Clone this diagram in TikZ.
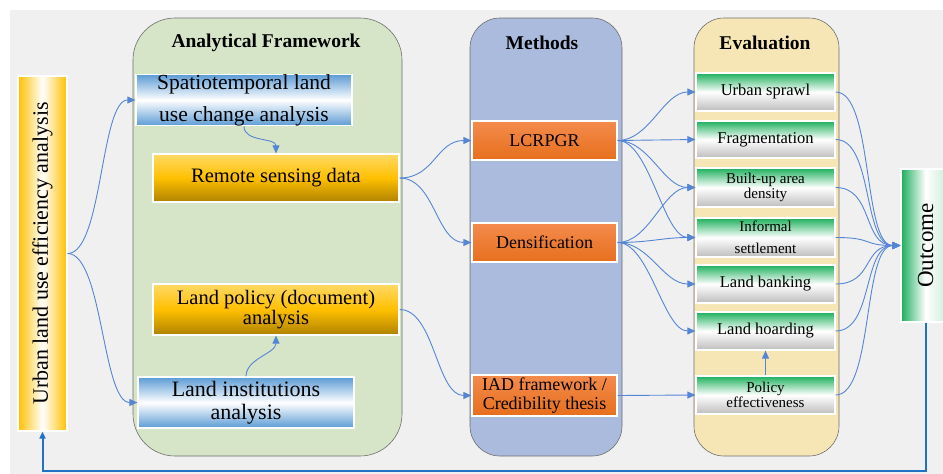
\documentclass[tikz,border=0pt]{standalone}
\usepackage{fontspec}
\IfFontExistsTF{LiberationSerif-Regular.ttf}
  {\setmainfont{LiberationSerif}[Extension=.ttf, UprightFont=*-Regular, BoldFont=*-Bold,
     ItalicFont=*-Italic, BoldItalicFont=*-BoldItalic]}
  {\setmainfont{Liberation Serif}}
\usepackage{graphicx}
\usetikzlibrary{arrows.meta}

\definecolor{bgGray}{HTML}{F0F0F0}
\definecolor{panelLine}{HTML}{6E6E6E}
\definecolor{afFill}{HTML}{D6E4C8}
\definecolor{meFill}{HTML}{AABBDD}
\definecolor{evFill}{HTML}{F6E6B6}
\definecolor{cBlue}{HTML}{5B9BD5}
\definecolor{gTop}{HTML}{FFD966}
\definecolor{gMid}{HTML}{FFC000}
\definecolor{gBot}{HTML}{AE8200}
\definecolor{oTop}{HTML}{F48B4D}
\definecolor{oBot}{HTML}{E66F1C}
\definecolor{eGreen}{HTML}{1DB05C}
\definecolor{eGray}{HTML}{BDBDBD}
\definecolor{ulGold}{HTML}{FFC000}
\definecolor{ocGreen}{HTML}{1AAE5A}
\definecolor{connBlue}{HTML}{5585D5}
\definecolor{fbBlue}{HTML}{2272C3}

\newcommand\setfs[2]{\fontsize{#1}{#2}\selectfont}

\tikzset{
  box/.style={draw=white, line width=1.2pt, inner sep=0pt, align=center, text=black},
  bluebox/.style={box, top color=cBlue, bottom color=cBlue, middle color=white},
  goldbox/.style={box, top color=gTop, bottom color=gBot, middle color=gMid},
  orangebox/.style={box, top color=oTop, bottom color=oBot,
    minimum width=145pt, font=\setfs{18}{18.5}},
  evbox/.style={box, top color=eGreen, bottom color=eGray, middle color=white,
    minimum width=139pt, font=\setfs{16.5}{18}},
  panel/.style={draw=panelLine, line width=0.6pt, inner sep=0pt},
  paneltitle/.style={font=\setfs{19.5}{22}\bfseries, inner sep=0pt},
  conn/.style={draw=connBlue, line width=0.9pt, -{Triangle[length=8pt,width=7pt]}},
  feedback/.style={draw=fbBlue, line width=2pt, -{Triangle[length=7pt,width=6pt]}}
}

\begin{document}
\begin{tikzpicture}[x=1pt, y=-1pt]
\useasboundingbox (0,0) rectangle (943,474);
\fill[white] (0,0) rectangle (943,474);
\fill[bgGray] (10,10) rectangle (943,474);

% three column panels
\node[panel, fill=afFill, rounded corners=42pt, minimum width=269pt, minimum height=438pt] (af) at (267.5,237) {};
\node[panel, fill=meFill, rounded corners=30pt, minimum width=152pt, minimum height=438pt] (me) at (546,237) {};
\node[panel, fill=evFill, rounded corners=30pt, minimum width=145pt, minimum height=438pt] (ev) at (766.5,237) {};

\node[paneltitle] (afT) at (266,43) {Analytical Framework};
\node[paneltitle] (meT) at (542,43) {Methods};
\node[paneltitle] (evT) at (765,43) {Evaluation};

% starting point
\node[box, left color=ulGold, right color=ulGold, middle color=white,
      minimum width=49pt, minimum height=355pt] (ul) at (42.5,253.5)
      {\rotatebox{90}{\setfs{22}{24}Urban land use efficiency analysis}};

% analytical framework
\node[bluebox, minimum width=216pt, minimum height=50pt, font=\setfs{21.5}{32}] (sp) at (244,100)
  {Spatiotemporal land\\use change analysis};
\node[goldbox, minimum width=246pt, minimum height=48pt, font=\setfs{20.5}{22}] (rs) at (276,178)
  {Remote sensing data};
\node[goldbox, minimum width=246pt, minimum height=51pt, font=\setfs{20.5}{19.5}] (lp) at (276,309.5)
  {Land policy (document)\\analysis};
\node[bluebox, minimum width=216pt, minimum height=51pt, font=\setfs{22}{23}] (li) at (246,402.5)
  {Land institutions\\analysis};

% methods
\node[orangebox, minimum height=39pt] (lc) at (544.5,140.5) {LCRPGR};
\node[orangebox, minimum height=39pt] (de) at (544.5,242.5) {Densification};
\node[orangebox, minimum height=41pt] (iad) at (544.5,395.5) {IAD framework /\\Credibility thesis};

% evaluation
\node[evbox, minimum height=38pt] (us) at (765.5,92) {Urban sprawl};
\node[evbox, minimum height=37pt] (fr) at (765.5,139.5) {Fragmentation};
\node[evbox, minimum height=39pt, font=\setfs{15}{13}] (bu) at (765.5,187.5) {Built-up area\\density};
\node[evbox, minimum height=39pt, font=\setfs{15}{22}] (inf) at (765.5,237.5) {Informal\\settlement};
\node[evbox, minimum height=38pt] (lb) at (765.5,284) {Land banking};
\node[evbox, minimum height=38pt] (lh) at (765.5,331) {Land hoarding};
\node[evbox, minimum height=38pt, font=\setfs{15}{13}] (pe) at (765.5,395) {Policy\\effectiveness};

% outcome
\node[box, left color=ocGreen, right color=ocGreen!25, middle color=white,
      minimum width=49pt, minimum height=153pt] (oc) at (925.5,245.5)
      {\rotatebox{90}{\setfs{23}{25}Outcome}};

% connectors: start -> framework
\draw[conn] (ul.east) .. controls +(35,0) and +(-35,0) .. (sp.west);
\draw[conn] (ul.east) .. controls +(35,0) and +(-35,0) .. (li.west);
\draw[conn] (sp.south) .. controls +(0,16) and +(0,-16) .. (rs.north);
\draw[conn] (li.north) .. controls +(0,-18) and +(0,18) .. (lp.south);

% framework -> methods
\draw[conn] (rs.east) .. controls +(35,0) and +(-35,0) .. (lc.west);
\draw[conn] (rs.east) .. controls +(35,0) and +(-35,0) .. (de.west);
\draw[conn] (lp.east) .. controls +(35,0) and +(-35,0) .. (iad.west);

% methods -> evaluation
\draw[conn] (lc.east) .. controls +(32,0) and +(-32,0) .. (us.west);
\draw[conn] (lc.east) -- (fr.west);
\draw[conn] (lc.east) .. controls +(32,0) and +(-32,0) .. (bu.west);
\draw[conn] (lc.east) .. controls +(32,0) and +(-32,0) .. (inf.west);
\draw[conn] (de.east) .. controls +(32,0) and +(-32,0) .. (bu.west);
\draw[conn] (de.east) .. controls +(32,0) and +(-32,0) .. (inf.west);
\draw[conn] (de.east) .. controls +(32,0) and +(-32,0) .. (lb.west);
\draw[conn] (de.east) .. controls +(32,0) and +(-32,0) .. (lh.west);
\draw[conn] (iad.east) -- (pe.west);
\draw[conn] (pe.north) -- (lh.south);

% evaluation -> outcome
\foreach \n in {us,fr,bu,inf,lb,lh,pe}
  \draw[conn] (\n.east) .. controls +(38,0) and +(-38,0) .. (oc.west);

% feedback loop
\coordinate (fbL) at (42.5,471);
\draw[feedback] (oc.south) |- (fbL) -- (ul.south);
\end{tikzpicture}
\end{document}
